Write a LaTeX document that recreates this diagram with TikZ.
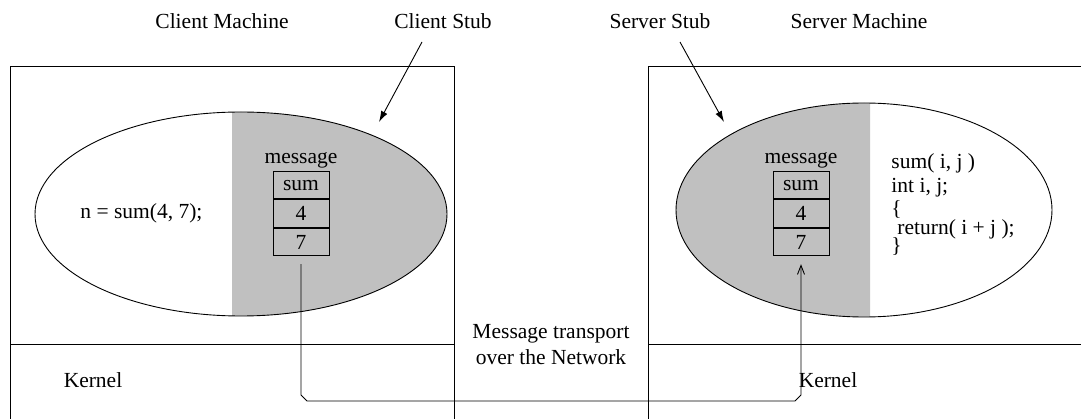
\documentclass[tikz,border=0pt]{standalone}
\usepackage{fontspec}
\setmainfont{Liberation Serif}
\usetikzlibrary{arrows.meta,calc}
\definecolor{stubgray}{RGB}{192,192,192}
\begin{document}
\begin{tikzpicture}[x=1pt,y=-1pt,line width=0.9pt,
  every node/.style={font=\fontsize{21.5}{24}\selectfont,inner sep=0pt},
  cell/.style={draw,minimum width=56pt,minimum height=27.5pt,anchor=north},
  lbl/.style={anchor=base},
  code/.style={anchor=base west},
  pointer/.style={-{Latex[length=11pt,width=7pt]}},
  transport/.style={-{Straight Barb[length=9pt,width=7pt]}}]
\useasboundingbox (0,0) rectangle (1081,419);

% machines and their kernel layers
\draw (10,430) -- (10,66) -- (454,66) -- (454,430);
\draw (648,430) -- (648,66) -- (1090,66);
\draw (10,344) -- (454,344);
\draw (648,344) -- (1090,344);

% client process, stub half shaded
\begin{scope}
  \clip (232,0) rectangle (470,419);
  \fill[stubgray] (241,214) ellipse [x radius=206, y radius=102];
\end{scope}
\draw (241,214) ellipse [x radius=206, y radius=102];

% server process, stub half shaded
\begin{scope}
  \clip (640,0) rectangle (870,419);
  \fill[stubgray] (864,210) ellipse [x radius=188, y radius=107];
\end{scope}
\draw (864,210) ellipse [x radius=188, y radius=107];

% titles
\node[lbl] (cm) at (222,29) {Client Machine};
\node[lbl] (cs) at (443,29) {Client Stub};
\node[lbl] (ss) at (660,29) {Server Stub};
\node[lbl] (sm) at (859,29) {Server Machine};

% stub pointers
\coordinate (cstail) at (422,42);
\coordinate (cshead) at (379,122);
\coordinate (sstail) at (680,42);
\coordinate (sshead) at (724,122);
\draw[pointer] (cstail) -- (cshead);
\draw[pointer] (sstail) -- (sshead);

% client message
\node[lbl] (lmsg) at (301,164) {message};
\node[cell] (lsum) at (301,171) {sum};
\node[cell] (lfour) at (lsum.south) {4};
\node[cell] (lseven) at (lfour.south) {7};

% server message
\node[lbl] (rmsg) at (801,164) {message};
\node[cell] (rsum) at (801,171) {sum};
\node[cell] (rfour) at (rsum.south) {4};
\node[cell] (rseven) at (rfour.south) {7};

% client call
\node[anchor=base west] (call) at (80,219) {n = sum(4, 7);};

% server procedure
\node[code] (c1) at (891,169) {sum( i, j )};
\node[code] (c2) at (891,193) {int i, j;};
\node[code] (c3) at (891,216) {\{};
\node[code] (c4) at (897,235) {return( i + j );};
\node[code] (c5) at (891,253) {\}};

% network
\node[lbl] (net1) at (551,339) {Message transport};
\node[lbl] (net2) at (551,364) {over the Network};
\node[lbl] (k1) at (93,387) {Kernel};
\node[lbl] (k2) at (828,387) {Kernel};

% transport path
\coordinate (ls) at ($(lseven.south)+(0,8)$);
\coordinate (rs) at ($(rseven.south)+(0,8)$);
\coordinate (bot) at (0,401);
\draw[transport] (ls) -- ($(ls|-bot)+(0,-6)$) -- ($(ls|-bot)+(6,0)$)
  -- ($(rs|-bot)+(-6,0)$) -- ($(rs|-bot)+(0,-6)$) -- (rs);
\end{tikzpicture}
\end{document}
